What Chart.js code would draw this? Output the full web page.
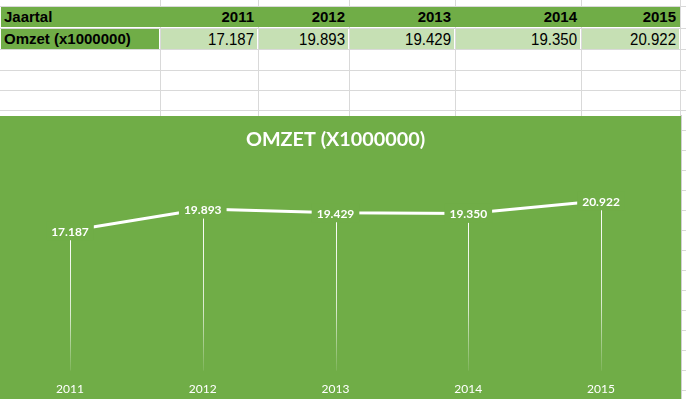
<!DOCTYPE html>
<html>
<head>
<meta charset="utf-8">
<script src="https://cdn.jsdelivr.net/npm/chart.js@4"></script>
<style>
    html, body { margin: 0; padding: 0; background: #ffffff; }
    body { width: 686px; height: 399px; position: relative; overflow: hidden; }
    .lijn-h { position: absolute; height: 1px; background: #d9d9d9; }
    .lijn-v { position: absolute; width: 1px; background: #d9d9d9; }
    .cel {
        position: absolute; box-sizing: border-box; height: 20px;
        font-family: "Liberation Sans", Arial, sans-serif; font-size: 15px;
        line-height: 20px; color: #000; white-space: nowrap; overflow: hidden;
    }
    .kop { font-weight: bold; }
    .rechts { text-align: right; padding-right: 4px; }
    .links { text-align: left; padding-left: 4px; }
    .waarde span { display: inline-block; transform: scaleY(1.15); }
    #grafiek-vak {
        position: absolute; left: 0; top: 116px; width: 681px; height: 283px;
        background: #70ad47;
    }
    #grafiek-rand { position: absolute; left: 681px; top: 115px; width: 1px; height: 284px; background: #d0d0d0; }
</style>
</head>
<body>
<div id="tabel"></div>
<div id="grafiek-rand"></div>
<div id="grafiek-vak"><canvas id="grafiek-omzet"></canvas></div>
<script>
/* gegevens uit de spreadsheet */
const jaren = ['2011', '2012', '2013', '2014', '2015'];
const omzet = [17.187, 19.893, 19.429, 19.350, 20.922];
const rijKoppen = ['Jaartal', 'Omzet (x1000000)'];
const grafiekTitel = 'OMZET (X1000000)';
const asMin = 0;
const asMax = 25;

const groen = '#70ad47';
const lichtGroen = '#c6e0b4';

/* kolomgrenzen van het werkblad (A t/m F) */
const kolommen = [0, 160, 258, 349, 455, 581, 680];

function bouwTabel() {
    const tabel = document.getElementById('tabel');
    let html = '';

    /* rasterlijnen van de lege rijen */
    const rijLijnen = [6, 28, 49, 70, 90, 110];
    for (let i = 0; i < rijLijnen.length; i++) {
        html += `<div class="lijn-h" style="left:0;top:${rijLijnen[i]}px;width:686px"></div>`;
    }
    for (let i = 1; i < kolommen.length; i++) {
        html += `<div class="lijn-v" style="left:${kolommen[i]}px;top:0;height:116px"></div>`;
    }
    /* rijen rechts naast de grafiek */
    for (let y = 130; y < 399; y += 20) {
        html += `<div class="lijn-h" style="left:682px;top:${y}px;width:4px"></div>`;
    }

    /* kopregel: één doorlopend groen vlak */
    html += `<div style="position:absolute;left:1px;top:7px;width:679px;height:20px;background:${groen}"></div>`;
    html += `<div class="cel kop links" style="left:0;top:7px;width:160px">${rijKoppen[0]}</div>`;
    for (let i = 0; i < jaren.length; i++) {
        const x = kolommen[i + 1];
        const b = kolommen[i + 2] - x;
        html += `<div class="cel kop rechts" style="left:${x}px;top:7px;width:${b}px">${jaren[i]}</div>`;
    }

    /* tweede regel: omzet */
    html += `<div class="cel kop links" style="left:1px;top:29px;width:158px;background:${groen};padding-left:3px">${rijKoppen[1]}</div>`;
    for (let i = 0; i < omzet.length; i++) {
        const x = kolommen[i + 1] + 1;
        const b = kolommen[i + 2] - x - 1;
        html += `<div class="cel waarde rechts" style="left:${x}px;top:29px;width:${b}px;background:${lichtGroen};padding-right:3px"><span>${omzet[i].toFixed(3)}</span></div>`;
    }

    tabel.innerHTML = html;
}

bouwTabel();

/* druplijnen vanaf elk punt naar de as, vervagend naar beneden */
const druplijnen = {
    id: 'druplijnen',
    beforeDatasetsDraw(chart) {
        const ctx = chart.ctx;
        const punten = chart.getDatasetMeta(0).data;
        const onder = chart.chartArea.bottom + 2;
        ctx.save();
        for (let i = 0; i < punten.length; i++) {
            const p = punten[i];
            const x = Math.round(p.x) + 0.5;
            const verloop = ctx.createLinearGradient(0, p.y, 0, onder);
            verloop.addColorStop(0, 'rgba(255,255,255,1)');
            verloop.addColorStop(0.6, 'rgba(255,255,255,0.75)');
            verloop.addColorStop(1, 'rgba(255,255,255,0.1)');
            ctx.strokeStyle = verloop;
            ctx.lineWidth = 1;
            ctx.beginPath();
            ctx.moveTo(x, p.y);
            ctx.lineTo(x, onder);
            ctx.stroke();
        }
        ctx.restore();
    }
};

/* gegevenslabels met groene achtergrond, gecentreerd op het punt */
const labels = {
    id: 'labels',
    afterDatasetsDraw(chart) {
        const ctx = chart.ctx;
        const punten = chart.getDatasetMeta(0).data;
        ctx.save();
        ctx.font = 'bold 12px Lato, "Open Sans", sans-serif';
        ctx.textAlign = 'center';
        ctx.textBaseline = 'middle';
        for (let i = 0; i < punten.length; i++) {
            const p = punten[i];
            const tekst = omzet[i].toFixed(3);
            const b = ctx.measureText(tekst).width + 10;
            const h = 19;
            ctx.fillStyle = groen;
            ctx.fillRect(p.x - b / 2, p.y - h / 2, b, h);
            ctx.fillStyle = '#ffffff';
            ctx.fillText(tekst, p.x, p.y + 1);
        }
        ctx.restore();
    }
};

new Chart(document.getElementById('grafiek-omzet'), {
    type: 'line',
    data: {
        labels: jaren,
        datasets: [{
            label: grafiekTitel,
            data: omzet,
            borderColor: '#ffffff',
            backgroundColor: '#ffffff',
            borderWidth: 3,
            pointRadius: 0,
            tension: 0
        }]
    },
    options: {
        responsive: true,
        maintainAspectRatio: false,
        animation: false,
        layout: { padding: { left: 3.6, right: 13.6, top: 0, bottom: 3.8 } },
        plugins: {
            legend: { display: false },
            tooltip: { enabled: false },
            title: {
                display: true,
                text: grafiekTitel,
                color: '#ffffff',
                font: { family: 'Lato, "Open Sans", sans-serif', size: 19.8, weight: 'bold' },
                padding: { top: 12.1, bottom: 16.2 }
            }
        },
        scales: {
            x: {
                offset: true,
                grid: { display: false, drawTicks: false },
                border: { display: false },
                ticks: {
                    color: '#ffffff',
                    padding: 13.8,
                    font: { family: 'Lato, "Open Sans", sans-serif', size: 12 }
                },
                /* vaste hoogte van de as zodat het plotvlak tot bij de jaartallen loopt */
                afterFit(schaal) { schaal.height = 26.6; }
            },
            y: {
                display: false,
                min: asMin,
                max: asMax
            }
        }
    },
    plugins: [druplijnen, labels]
});
</script>
</body>
</html>
